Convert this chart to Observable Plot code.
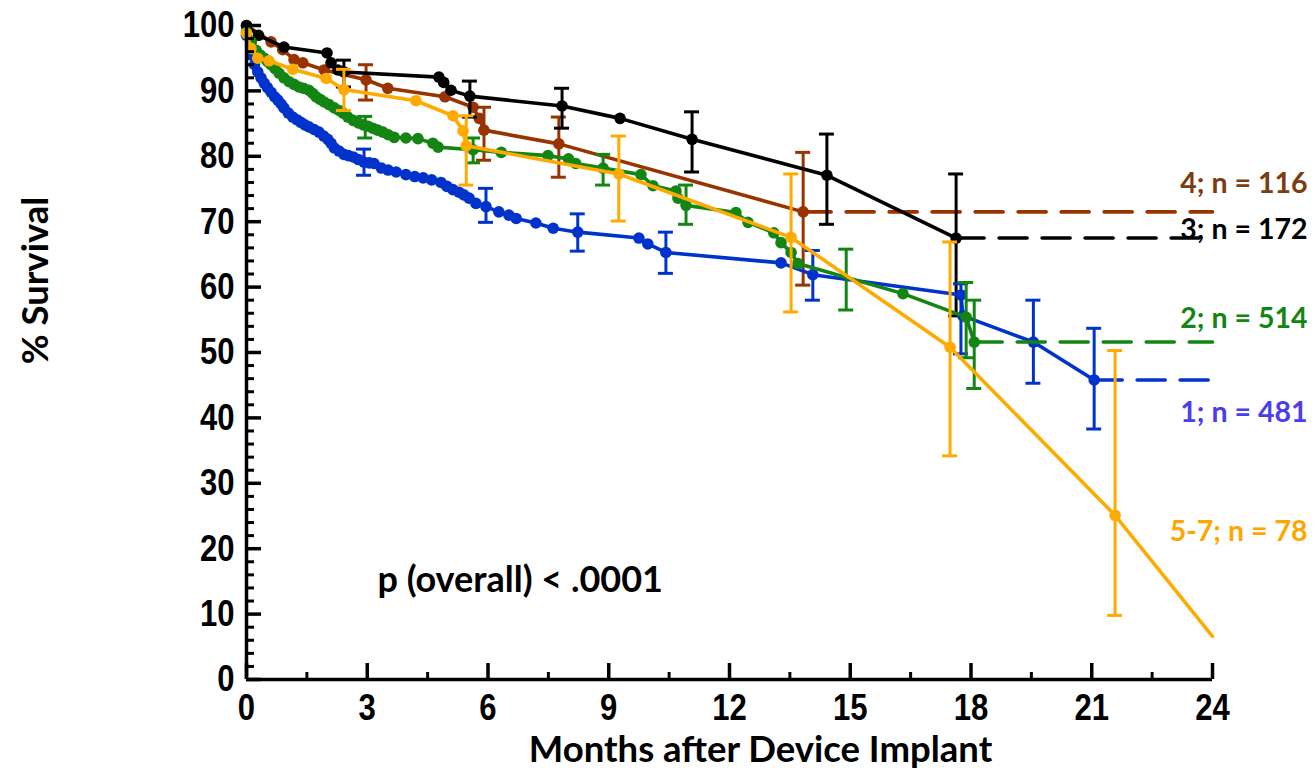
<!DOCTYPE html>
<html><head><meta charset="utf-8">
<script src="https://cdn.jsdelivr.net/npm/d3@7"></script>
<script src="https://cdn.jsdelivr.net/npm/@observablehq/plot@0.6"></script>
<style>
html,body{margin:0;padding:0;background:#fff;}
#chart{width:1316px;height:775px;}
</style></head><body><div id="chart"></div>
<script>
// ---------- data ----------
const groups = ["1", "2", "3", "4", "5-7"];
const groupLabels = ["1; n = 481", "2; n = 514", "3; n = 172", "4; n = 116", "5-7; n = 78"];

const xMajor = [0, 3, 6, 9, 12, 15, 18, 21, 24];
const xMinor = [1.5, 4.5, 7.5, 10.5, 13.5, 16.5, 19.5, 22.5];
const yMajor = [0, 10, 20, 30, 40, 50, 60, 70, 80, 90, 100];
const yMinor = [2, 4, 6, 8, 12, 14, 16, 18, 22, 24, 26, 28, 32, 34, 36, 38, 42, 44, 46, 48, 52, 54, 56, 58, 62, 64, 66, 68, 72, 74, 76, 78, 82, 84, 86, 88, 92, 94, 96, 98];

// group 1
const months1 = [0, 0.11, 0.2, 0.28, 0.36, 0.44, 0.52, 0.61, 0.7, 0.78, 0.86, 0.93, 1.04, 1.15, 1.25, 1.35, 1.45, 1.55, 1.68, 1.8, 1.92, 2.02, 2.1, 2.18, 2.3, 2.42, 2.53, 2.65, 2.78, 2.92, 3.05, 3.17, 3.35, 3.52, 3.72, 3.96, 4.18, 4.39, 4.6, 4.83, 4.98, 5.13, 5.28, 5.4, 5.53, 5.7, 5.95, 6.27, 6.52, 6.7, 7.19, 7.62, 8.23, 9.75, 9.97, 10.42, 13.28, 14.07, 17.75, 17.8, 19.55, 21.06];
const survival1 = [98.5, 95.5, 94.0, 92.9, 92.0, 91.2, 90.5, 89.8, 89.1, 88.6, 88.0, 87.4, 86.6, 86.0, 85.6, 85.2, 84.8, 84.5, 84.1, 83.7, 83.1, 82.6, 82.0, 81.3, 80.8, 80.3, 80.1, 79.9, 79.5, 79.1, 79.0, 78.9, 78.2, 77.9, 77.6, 77.2, 76.9, 76.7, 76.4, 76.0, 75.4, 74.9, 74.5, 74.1, 73.6, 72.8, 72.3, 71.5, 71.0, 70.5, 69.8, 69.0, 68.4, 67.5, 66.6, 65.3, 63.7, 61.9, 58.8, 55.6, 51.6, 45.8];
const errMonths1 = [2.92, 5.95, 8.23, 10.42, 14.07, 17.75, 19.55, 21.06];
const errLow1 = [77.1, 69.9, 65.5, 62.1, 58.0, 49.8, 45.3, 38.3];
const errHigh1 = [81.1, 75.1, 71.2, 68.4, 65.6, 60.5, 58.0, 53.7];

// group 2
const months2 = [0, 0.12, 0.24, 0.34, 0.44, 0.52, 0.61, 0.71, 0.81, 0.93, 1.06, 1.18, 1.3, 1.42, 1.55, 1.65, 1.73, 1.83, 1.93, 2.05, 2.18, 2.3, 2.4, 2.52, 2.65, 2.78, 2.9, 3.02, 3.14, 3.26, 3.39, 3.52, 3.67, 3.96, 4.26, 4.63, 4.76, 5.63, 6.33, 7.49, 8.0, 8.18, 8.86, 9.8, 10.1, 10.67, 10.72, 10.92, 12.16, 12.46, 13.1, 13.28, 13.53, 13.7, 16.31, 17.88, 18.08];
const survival2 = [99.0, 97.5, 96.2, 95.5, 95.0, 94.5, 94.0, 93.4, 92.7, 92.0, 91.4, 91.0, 90.6, 90.4, 90.1, 89.6, 89.1, 88.7, 88.3, 87.9, 87.4, 87.0, 86.6, 86.0, 85.5, 85.1, 84.8, 84.6, 84.3, 84.0, 83.7, 83.3, 82.9, 82.8, 82.7, 82.0, 81.4, 81.0, 80.6, 80.1, 79.6, 78.9, 78.2, 77.2, 75.5, 74.7, 73.6, 72.5, 71.4, 69.9, 68.3, 66.8, 65.3, 63.6, 59.0, 55.4, 51.6];
const errMonths2 = [2.95, 5.63, 8.86, 10.92, 14.9, 17.88, 18.08];
const errLow2 = [82.8, 79.0, 75.6, 69.6, 56.5, 49.2, 44.5];
const errHigh2 = [86.1, 82.8, 80.3, 75.6, 65.8, 60.7, 58.0];

// group 3
const months3 = [0, 0.3, 0.93, 2.0, 2.1, 2.27, 2.42, 4.78, 4.9, 5.08, 5.55, 7.84, 9.28, 11.07, 14.42, 17.63];
const survival3 = [100, 98.5, 96.7, 95.8, 94.3, 93.2, 92.9, 92.1, 91.3, 90.1, 89.2, 87.7, 85.8, 82.6, 77.1, 67.5];
const errMonths3 = [2.42, 5.55, 7.84, 11.07, 14.42, 17.63];
const errLow3 = [90.6, 86.0, 84.3, 77.6, 69.6, 55.6];
const errHigh3 = [94.7, 91.5, 90.4, 86.8, 83.4, 77.3];

// group 4
const months4 = [0, 0.61, 0.9, 1.18, 1.4, 1.93, 2.97, 3.51, 4.93, 5.63, 5.78, 5.9, 7.76, 13.83];
const survival4 = [100, 97.5, 96.3, 94.8, 94.3, 93.2, 91.7, 90.4, 89.1, 87.5, 85.8, 84.0, 81.9, 71.5];
const errMonths4 = [2.97, 5.9, 7.76, 13.83];
const errLow4 = [88.6, 79.4, 76.8, 60.3];
const errHigh4 = [94.0, 87.5, 86.0, 80.6];

// group 5-7
const months5 = [0, 0.11, 0.28, 0.56, 1.15, 1.98, 2.42, 4.21, 5.13, 5.38, 5.46, 9.25, 13.53, 17.48, 21.58];
const survival5 = [98.8, 96.5, 95.0, 94.6, 93.3, 91.9, 90.2, 88.5, 86.2, 83.9, 81.6, 77.3, 67.6, 50.8, 25.1];
const errMonths5 = [2.42, 5.46, 9.25, 13.53, 17.48, 21.58];
const errLow5 = [87.0, 75.6, 70.1, 56.2, 34.2, 9.8];
const errHigh5 = [93.3, 86.2, 83.1, 77.3, 66.9, 50.3];
const endMonth5 = 24;
const endSurvival5 = 6.6;

const pText = "p (overall) < .0001";
const xTitle = "Months after Device Implant";
const yTitle = "% Survival";

// ---------- styles ----------
const lineColors = {"1": "#0033cc", "2": "#138513", "3": "#000000", "4": "#993300", "5-7": "#ffaa00"};
const labelColors = {"1": "#4b3cf0", "2": "#138513", "3": "#000000", "4": "#7a3c10", "5-7": "#ffa500"};
const tickFont = "'Liberation Sans', Arial, sans-serif";
const textFont = "Lato, 'Open Sans', sans-serif";

// ---------- build ----------
const toRows = (m, s) => m.map((v, i) => ({month: v, survival: s[i]}));
const toErr = (m, lo, hi) => m.map((v, i) => ({month: v, low: lo[i], high: hi[i]}));
const xEnd = xMajor[xMajor.length - 1];

const series = {
  "1": {pts: toRows(months1, survival1), err: toErr(errMonths1, errLow1, errHigh1)},
  "2": {pts: toRows(months2, survival2), err: toErr(errMonths2, errLow2, errHigh2)},
  "3": {pts: toRows(months3, survival3), err: toErr(errMonths3, errLow3, errHigh3)},
  "4": {pts: toRows(months4, survival4), err: toErr(errMonths4, errLow4, errHigh4)},
  "5-7": {pts: toRows(months5, survival5), err: toErr(errMonths5, errLow5, errHigh5)}
};
for (const g of ["1", "2", "3", "4"]) {
  const s = series[g];
  const last = s.pts[s.pts.length - 1];
  s.line = s.pts;
  s.tail = [last, {month: xEnd, survival: last.survival}];
}
series["5-7"].line = [...series["5-7"].pts, {month: endMonth5, survival: endSurvival5}];

const drawOrder = ["4", "3", "1", "2", "5-7"];
const marks = [];

for (const g of drawOrder) {
  const s = series[g];
  const c = lineColors[g];
  marks.push(Plot.line(s.line, {x: "month", y: "survival", stroke: c, strokeWidth: 3.6}));
  if (s.tail) marks.push(Plot.line(s.tail, {x: "month", y: "survival", stroke: c, strokeWidth: 3.6, strokeDasharray: "28,15"}));
  marks.push(Plot.ruleX(s.err, {x: "month", y1: "low", y2: "high", stroke: c, strokeWidth: 3}));
  marks.push(Plot.ruleY(s.err, {y: "low", x1: "month", x2: "month", insetLeft: -7.5, insetRight: -7.5, stroke: c, strokeWidth: 3}));
  marks.push(Plot.ruleY(s.err, {y: "high", x1: "month", x2: "month", insetLeft: -7.5, insetRight: -7.5, stroke: c, strokeWidth: 3}));
  marks.push(Plot.dot(s.pts, {x: "month", y: "survival", fill: c, r: 5.8}));
}

// axes
marks.push(Plot.ruleX([0], {stroke: "#000", strokeWidth: 3.5}));
marks.push(Plot.ruleY([0], {stroke: "#000", strokeWidth: 3.5}));
marks.push(Plot.axisY(yMajor, {tickSize: -15, tickPadding: 27, strokeWidth: 3.5, fontSize: 37, fontFamily: tickFont, fontWeight: "bold", fill: "#000", label: null}));
marks.push(Plot.axisY(yMinor, {tickSize: -8, strokeWidth: 3, fill: "none", label: null}));
marks.push(Plot.axisX(xMajor, {tickSize: -16, tickPadding: 30, strokeWidth: 3.5, fontSize: 37, fontFamily: tickFont, fontWeight: "bold", fill: "#000", label: null}));
marks.push(Plot.axisX(xMinor, {tickSize: -7, strokeWidth: 3, fill: "none", label: null}));

// group labels at right
const labelY = {"1": 40.7, "2": 55.2, "3": 68.7, "4": 75.8, "5-7": 22.6};
const labelRows = groups.map((g, i) => ({g, label: groupLabels[i], y: labelY[g]}));
marks.push(Plot.text(labelRows, {y: "y", text: "label", frameAnchor: "right", dx: 95, textAnchor: "end",
  fill: d => labelColors[d.g], fontSize: 28.5, fontWeight: "bold", fontFamily: textFont}));

// annotation + titles
marks.push(Plot.text([pText], {text: d => d, frameAnchor: "bottom-left", dx: 131, dy: -88, textAnchor: "start",
  fontSize: 36, fontWeight: "bold", fontFamily: textFont, fill: "#000"}));
marks.push(Plot.text([xTitle], {text: d => d, frameAnchor: "bottom", dx: 31, dy: 82, textAnchor: "middle", fontSize: 36.5, fontWeight: "bold", fontFamily: textFont, fill: "#000"}));
marks.push(Plot.text([yTitle], {text: d => d, frameAnchor: "left", dx: -210, dy: -72, rotate: -90, textAnchor: "middle", lineAnchor: "middle", fontSize: 36.5, fontWeight: "bold", fontFamily: textFont, fill: "#000"}));

const chart = Plot.plot({
  width: 1316,
  height: 775,
  marginLeft: 246,
  marginRight: 104,
  marginTop: 25,
  marginBottom: 96,
  x: {domain: [0, 24]},
  y: {domain: [0, 100]},
  style: {background: "#fff", fontFamily: textFont, overflow: "visible"},
  marks
});

// condensed look for tick labels (narrow bold digits)
chart.querySelectorAll('g[aria-label="y-axis tick label"] text, g[aria-label="x-axis tick label"] text').forEach(t => {
  const tr = t.getAttribute("transform");
  if (tr) {
    t.setAttribute("transform", tr + " scale(0.84,1)");
  } else {
    const x = +t.getAttribute("x") || 0, y = +t.getAttribute("y") || 0;
    t.removeAttribute("x"); t.removeAttribute("y");
    t.setAttribute("transform", `translate(${x},${y}) scale(0.84,1)`);
  }
});
document.getElementById("chart").appendChild(chart);
</script>
</body></html>
